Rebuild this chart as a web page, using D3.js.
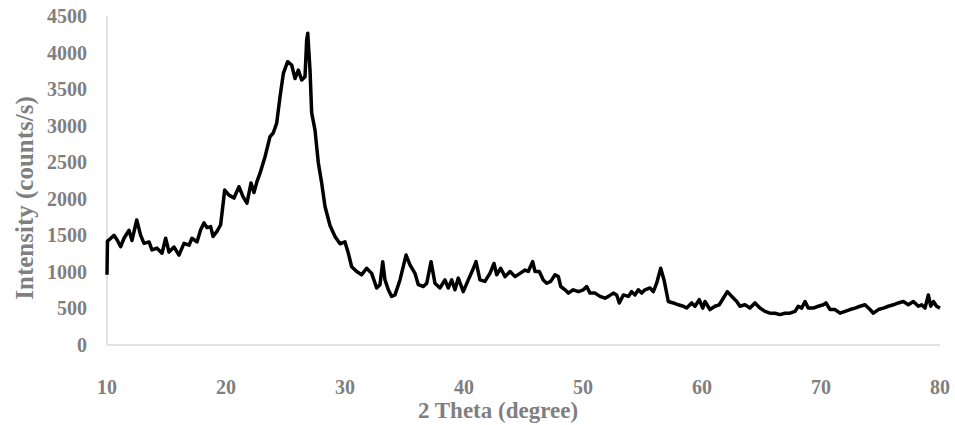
<!DOCTYPE html>
<html>
<head>
<meta charset="utf-8">
<script src="https://cdn.jsdelivr.net/npm/d3@7/dist/d3.min.js"></script>
<style>
  html, body { margin: 0; padding: 0; background: #ffffff; }
  svg { display: block; }
  .tick-label, .axis-title { font-family: "Liberation Serif", "Times New Roman", serif; font-weight: bold; fill: #7f7f7f; }
</style>
</head>
<body>
<svg id="chart" width="955" height="425"></svg>
<script>
// XRD scan: diffraction angle 2θ (degree) and measured intensity (counts/s)
const theta = [
  10.00, 10.04, 10.25, 10.59, 10.84, 11.15, 11.43, 11.85, 12.10, 12.50,
  12.83, 13.11, 13.53, 13.78, 14.20, 14.62, 14.93, 15.21, 15.63, 16.05,
  16.47, 16.89, 17.14, 17.56, 17.87, 18.15, 18.40, 18.71, 18.91, 19.24,
  19.55, 19.89, 20.25, 20.67, 21.09, 21.43, 21.76, 22.10, 22.35, 22.60,
  22.86, 23.28, 23.70, 23.97, 24.26, 24.54, 24.82, 25.18, 25.52, 25.80,
  26.08, 26.36, 26.64, 26.78, 26.87, 27.06, 27.20, 27.48, 27.76, 28.04,
  28.32, 28.74, 29.16, 29.58, 30.00, 30.28, 30.56, 30.98, 31.40, 31.82,
  32.24, 32.66, 32.94, 33.17, 33.36, 33.64, 33.92, 34.20, 34.62, 35.13,
  35.46, 35.88, 36.16, 36.58, 36.87, 37.23, 37.56, 37.98, 38.40, 38.68,
  38.97, 39.24, 39.52, 39.94, 40.36, 40.73, 41.01, 41.34, 41.76, 42.18,
  42.52, 42.75, 43.08, 43.45, 43.87, 44.29, 44.71, 45.13, 45.40, 45.77,
  45.97, 46.33, 46.66, 46.95, 47.29, 47.65, 47.93, 48.13, 48.49, 48.77,
  49.18, 49.61, 50.03, 50.31, 50.59, 51.01, 51.43, 51.85, 52.13, 52.55,
  52.83, 53.05, 53.39, 53.81, 54.09, 54.37, 54.65, 54.93, 55.21, 55.63,
  55.91, 56.19, 56.53, 56.81, 57.17, 57.59, 58.01, 58.43, 58.71, 59.13,
  59.41, 59.77, 60.06, 60.25, 60.67, 61.09, 61.45, 61.79, 62.13, 62.50,
  62.92, 63.19, 63.61, 64.03, 64.45, 64.87, 65.29, 65.71, 66.13, 66.55,
  66.97, 67.39, 67.82, 68.09, 68.38, 68.66, 68.93, 69.35, 69.77, 70.19,
  70.42, 70.76, 71.18, 71.60, 72.02, 72.44, 72.86, 73.28, 73.70, 74.12,
  74.40, 74.82, 75.24, 75.66, 76.08, 76.50, 76.92, 77.34, 77.76, 78.18,
  78.46, 78.74, 79.02, 79.22, 79.45, 79.71, 80.00
];

const intensity = [
   960, 1420, 1450, 1500, 1440, 1345, 1460, 1570, 1430, 1710,
  1500, 1390, 1410, 1300, 1325, 1255, 1460, 1270, 1340, 1230,
  1390, 1365, 1460, 1410, 1575, 1670, 1605, 1620, 1485, 1555,
  1645, 2120, 2050, 2010, 2165, 2030, 1940, 2215, 2085, 2235,
  2350, 2575, 2850, 2900, 3035, 3395, 3715, 3875, 3830, 3645,
  3760, 3625, 3670, 4170, 4265, 3760, 3175, 2940, 2490, 2215,
  1895, 1635, 1485, 1385, 1410, 1255, 1070, 1005,  960, 1050,
   980,  780,  825, 1140,  890,  755,  665,  685,  890, 1230,
  1095,  980,  825,  800,  845, 1140,  845,  780,  890,  780,
   890,  755,  915,  730,  890, 1025, 1140,  890,  870,  980,
  1115,  960, 1050,  935, 1005,  935,  980, 1025, 1005, 1140,
  1005, 1005,  890,  845,  870,  960,  935,  800,  755,  710,
   755,  730,  755,  800,  710,  710,  665,  640,  665,  710,
   685,  575,  685,  665,  730,  685,  755,  710,  755,  780,
   730,  845, 1050,  890,  595,  575,  550,  530,  505,  575,
   530,  620,  505,  595,  485,  530,  550,  640,  730,  665,
   595,  530,  550,  505,  575,  505,  460,  435,  435,  415,
   435,  435,  460,  530,  505,  595,  505,  505,  530,  550,
   575,  485,  485,  435,  460,  485,  505,  530,  550,  485,
   435,  485,  505,  530,  550,  575,  595,  550,  595,  530,
   550,  505,  685,  530,  595,  530,  505
];

const xTicks = [10, 20, 30, 40, 50, 60, 70, 80];
const yTicks = [0, 500, 1000, 1500, 2000, 2500, 3000, 3500, 4000, 4500];

const xTitle = "2 Theta (degree)";
const yTitle = "Intensity (counts/s)";

const svg = d3.select("#chart");

const plot = { left: 107, right: 940, top: 16, bottom: 345 };

const x = d3.scaleLinear().domain([10, 80]).range([plot.left, plot.right]);
const y = d3.scaleLinear().domain([0, 4500]).range([plot.bottom, plot.top]);

// Axis lines (no tick marks)
svg.append("line")
  .attr("x1", plot.left).attr("x2", plot.left)
  .attr("y1", plot.top).attr("y2", plot.bottom)
  .attr("stroke", "#d9d9d9").attr("stroke-width", 1.5);
svg.append("line")
  .attr("x1", plot.left).attr("x2", plot.right)
  .attr("y1", plot.bottom).attr("y2", plot.bottom)
  .attr("stroke", "#d9d9d9").attr("stroke-width", 1.5);

// Tick labels
svg.append("g").selectAll("text")
  .data(yTicks)
  .join("text")
  .attr("class", "tick-label")
  .attr("x", 87)
  .attr("y", d => y(d))
  .attr("text-anchor", "end")
  .attr("dominant-baseline", "central")
  .attr("font-size", 20)
  .text(d => d);

svg.append("g").selectAll("text")
  .data(xTicks)
  .join("text")
  .attr("class", "tick-label")
  .attr("x", d => x(d))
  .attr("y", 387)
  .attr("text-anchor", "middle")
  .attr("dominant-baseline", "central")
  .attr("font-size", 20)
  .text(d => d);

// Axis titles
svg.append("text")
  .attr("class", "axis-title")
  .attr("x", 498)
  .attr("y", 410)
  .attr("text-anchor", "middle")
  .attr("dominant-baseline", "central")
  .attr("font-size", 23)
  .text(xTitle);

svg.append("text")
  .attr("class", "axis-title")
  .attr("transform", "translate(24,198) rotate(-90)")
  .attr("text-anchor", "middle")
  .attr("dominant-baseline", "central")
  .attr("font-size", 25)
  .text(yTitle);

// Diffraction pattern
const points = theta.map((t, i) => [t, intensity[i]]);
const line = d3.line()
  .x(d => x(d[0]))
  .y(d => y(d[1]));

svg.append("path")
  .datum(points)
  .attr("fill", "none")
  .attr("stroke", "#000000")
  .attr("stroke-width", 3.5)
  .attr("stroke-linejoin", "round")
  .attr("d", line);
</script>
</body>
</html>
